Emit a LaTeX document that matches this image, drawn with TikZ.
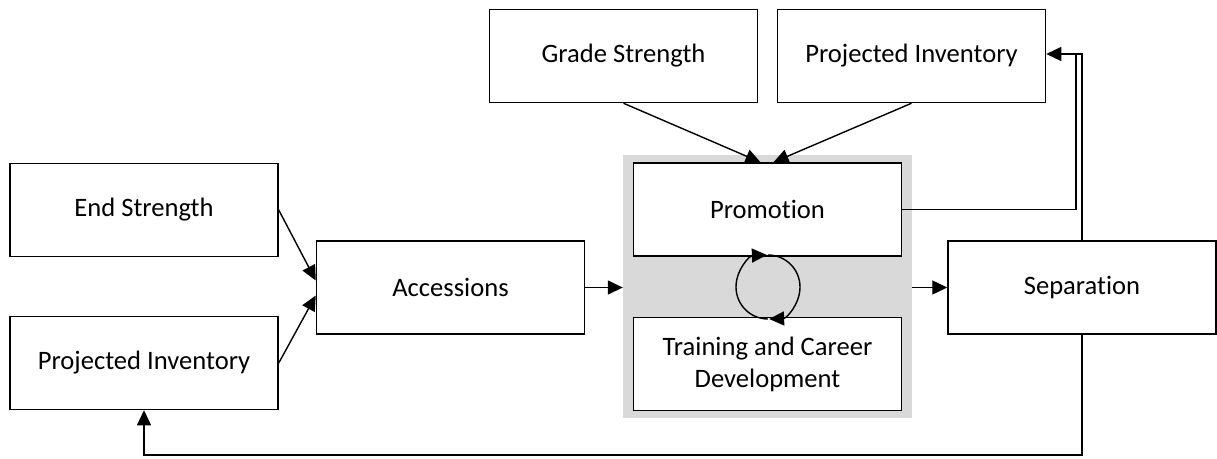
\documentclass[tikz,border=0pt]{standalone}
\usepackage{fontspec}
\setmainfont{Carlito}[Ligatures=NoCommon]
\usetikzlibrary{arrows.meta,calc}
\definecolor{graybg}{HTML}{D9D9D9}
\begin{document}
\begin{tikzpicture}[x=1pt,y=-1pt,
  box/.style={draw=black, line width=1.5pt, fill=white, minimum width=268pt, minimum height=93pt, inner sep=0pt, align=center, font=\fontsize{26.6}{32}\selectfont},
  arr/.style={line width=1.4pt, -{Triangle[length=15pt,width=14pt]}},
  ln/.style={line width=1.4pt}]
\useasboundingbox (0,0) rectangle (1217,458);
% grey group
\node[fill=graybg, minimum width=289pt, minimum height=263pt, inner sep=0pt] (grp) at (767.5,286.5) {};
% boxes
\node[box] (es)  at (144,210)    {End Strength};
\node[box] (pil) at (144,363)    {Projected Inventory};
\node[box] (acc) at (450.5,287.5) {Accessions};
\node[box] (gs)  at (623.5,56)   {Grade Strength};
\node[box] (pit) at (911.5,56)   {Projected Inventory};
\node[box] (prom) at (767.5,209.5) {Promotion};
\node[box] (tcd) at (767.5,364)  {Training and Career\\Development};
\node[box] (sep) at (1082,287.5) {Separation};
% cycle
\coordinate (cyc) at (768,287);
\draw[arr] ($(cyc)+(90:32)$) arc[start angle=90, end angle=268, radius=32];
\draw[arr] ($(cyc)+(270:32)$) arc[start angle=270, end angle=448, radius=32];
% connectors
\draw[arr] (es.east) -- ($(acc.west)+(0,-7)$);
\draw[arr] (pil.east) -- ($(acc.west)+(0,8)$);
\draw[arr] (acc.east) -- (grp.west |- acc.east);
\draw[arr] (grp.east |- sep.west) -- (sep.west);
\draw[arr] (gs.south) -- ($(prom.north)+(-7,0)$);
\draw[arr] (pit.south) -- ($(prom.north)+(6,0)$);
\coordinate (j1) at (1076,54);
\coordinate (j2) at (sep.north |- j1);
\draw[ln] (prom.east) -| (j1);
\draw[arr] (sep.north) -- (j2) -- (j2 -| pit.east);
\coordinate (b1) at (sep.south |- 0,455);
\draw[arr] (sep.south) -- (b1) -| (pil.south);
\end{tikzpicture}
\end{document}
